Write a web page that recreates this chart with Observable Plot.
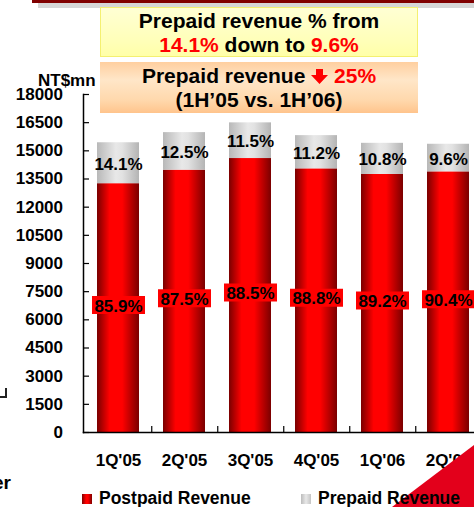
<!DOCTYPE html>
<html>
<head>
<meta charset="utf-8">
<script src="https://cdn.jsdelivr.net/npm/d3@7"></script>
<script src="https://cdn.jsdelivr.net/npm/@observablehq/plot@0.6"></script>
<style>
  html, body { margin: 0; padding: 0; background: #fff; }
  #wrap { position: relative; width: 474px; height: 507px; overflow: hidden; font-family: "Liberation Sans", Arial, sans-serif; font-weight: bold; }
  .abs { position: absolute; }
  .box { position: absolute; left: 100px; width: 318px; box-sizing: border-box; text-align: center; color: #000; font-size: 21px; line-height: 24px; }
  .red { color: #ff0000; }
  .leg { position: absolute; top: 488px; font-size: 17.5px; white-space: nowrap; }
  .sw { display: inline-block; width: 10px; height: 10px; margin-right: 7px; vertical-align: 0px; }
</style>
</head>
<body>
<div id="wrap">
  <div class="abs" style="left:32px;top:0;width:442px;height:3px;background:#800000"></div>
  <div class="abs" style="left:38px;top:3px;width:436px;height:4.5px;background:#d6d6d6"></div>
  <div id="chart" class="abs" style="left:0;top:0"></div>
  <div class="abs" style="left:392px;top:445px;width:82px;height:62px;background:#e3001b;clip-path:polygon(100% 0,100% 100%,0 100%)"></div>
  <div class="box" style="top:7px;height:50px;padding-top:1px;background:linear-gradient(#ffffd4,#ffffb8 70%,#ffffa8);border:1px solid #f4f070;">
    <div>Prepaid revenue % from</div>
    <div><span class="red">14.1%</span> down to <span class="red">9.6%</span></div>
  </div>
  <div class="box" style="top:62px;height:51px;padding-top:2px;background:linear-gradient(#ffcf9f,#ffe6c8 35%,#ffd8ac 75%,#ffc48c);">
    <div>Prepaid revenue <svg width="17" height="15" viewBox="0 0 17 15" style="vertical-align:-1px"><polygon points="5,0 12,0 12,6 17,6 8.5,15 0,6 5,6" fill="#ff0000"/></svg> <span class="red">25%</span></div>
    <div>(1H’05 vs. 1H’06)</div>
  </div>
  <div class="abs" style="left:38px;top:71px;font-size:17px;">NT$mn</div>
  <div class="abs" style="left:-7px;top:472px;font-size:19px;">er</div>
  <div class="abs" style="left:0px;top:388px;width:5px;height:8px;border-right:2px solid #222;border-bottom:2px solid #222;"></div>
  <div class="leg" style="left:82px;"><span class="sw" style="background:linear-gradient(90deg,#800000,#ff0000 40%,#ff0000 60%,#800000)"></span>Postpaid Revenue</div>
  <div class="leg" style="left:301px;"><span class="sw" style="background:linear-gradient(90deg,#bcbcbc,#e8e8e8 50%,#c4c4c4)"></span>Prepaid Revenue</div>
</div>
<script>
const quarters = ["1Q'05", "2Q'05", "3Q'05", "4Q'05", "1Q'06", "2Q'06"];
const postpaid = [13250, 13970, 14590, 14040, 13740, 13880];
const prepaid = [2180, 2000, 1900, 1770, 1660, 1470];
const postpaidPct = ["85.9%", "87.5%", "88.5%", "88.8%", "89.2%", "90.4%"];
const prepaidPct = ["14.1%", "12.5%", "11.5%", "11.2%", "10.8%", "9.6%"];
const yTicks = [0, 1500, 3000, 4500, 6000, 7500, 9000, 10500, 12000, 13500, 15000, 16500, 18000];

const rows = quarters.map((q, i) => ({
  q, post: postpaid[i], pre: prepaid[i], total: postpaid[i] + prepaid[i],
  postPct: postpaidPct[i], prePct: prepaidPct[i]
}));

const boxSymbol = { draw(ctx) { ctx.rect(-26.5, -9, 53, 18); } };

const plot = Plot.plot({
  width: 490,
  height: 507,
  marginTop: 94,
  marginBottom: 75,
  marginLeft: 83,
  marginRight: 8,
  style: { fontFamily: "'Liberation Sans', Arial, sans-serif", fontSize: "17px", fontWeight: "bold", background: "transparent", maxWidth: "none", overflow: "visible", color: "#000" },
  x: { domain: quarters, paddingInner: 0.37, paddingOuter: 0.185, label: null },
  y: { domain: [0, 18000], label: null },
  marks: [
    Plot.barY(rows, { x: "q", y1: 0, y2: "post", fill: "url(#gRed)" }),
    Plot.barY(rows, { x: "q", y1: "post", y2: "total", fill: "url(#gGrey)" }),
    Plot.dot(rows, { x: "q", y: d => d.post / 2, symbol: boxSymbol, fill: "#ff0000", stroke: null, dy: -3 }),
    Plot.text(rows, { x: "q", y: d => d.post / 2, text: "postPct", fill: "#000", fontSize: 17, fontWeight: "bold", dy: -2 }),
    Plot.text(rows, { x: "q", y: d => d.post + d.pre / 2, text: "prePct", fill: "#000", fontSize: 17, fontWeight: "bold", dy: 1 }),
    Plot.frame({ anchor: "left", stroke: "#000", strokeWidth: 1.5 }),
    Plot.frame({ anchor: "bottom", stroke: "#000", strokeWidth: 1.5 }),
    Plot.axisY({ ticks: yTicks, tickSize: -6, tickPadding: 26.5, tickFormat: d => String(d), strokeWidth: 1.2, fontSize: 17, fontWeight: "bold" }),
    Plot.axisX({ tickSize: 0, tickPadding: 21, fontSize: 17, fontWeight: "bold" }),
    Plot.axisX({ tickSize: -6, tickFormat: () => "", dx: 33.25, strokeWidth: 1.2 })
  ]
});

const ns = "http://www.w3.org/2000/svg";
const defs = document.createElementNS(ns, "defs");
defs.innerHTML = `
<linearGradient id="gRed" x1="0" x2="1" y1="0" y2="0">
  <stop offset="0" stop-color="#7a0000"/>
  <stop offset="0.3" stop-color="#ff0000"/>
  <stop offset="0.6" stop-color="#ff0000"/>
  <stop offset="1" stop-color="#7a0000"/>
</linearGradient>
<linearGradient id="gGrey" x1="0" x2="1" y1="0" y2="0">
  <stop offset="0" stop-color="#b8b8b8"/>
  <stop offset="0.45" stop-color="#e8e8e8"/>
  <stop offset="0.6" stop-color="#e2e2e2"/>
  <stop offset="1" stop-color="#b4b4b4"/>
</linearGradient>`;
plot.insertBefore(defs, plot.firstChild);
document.getElementById("chart").appendChild(plot);
</script>
</body>
</html>
